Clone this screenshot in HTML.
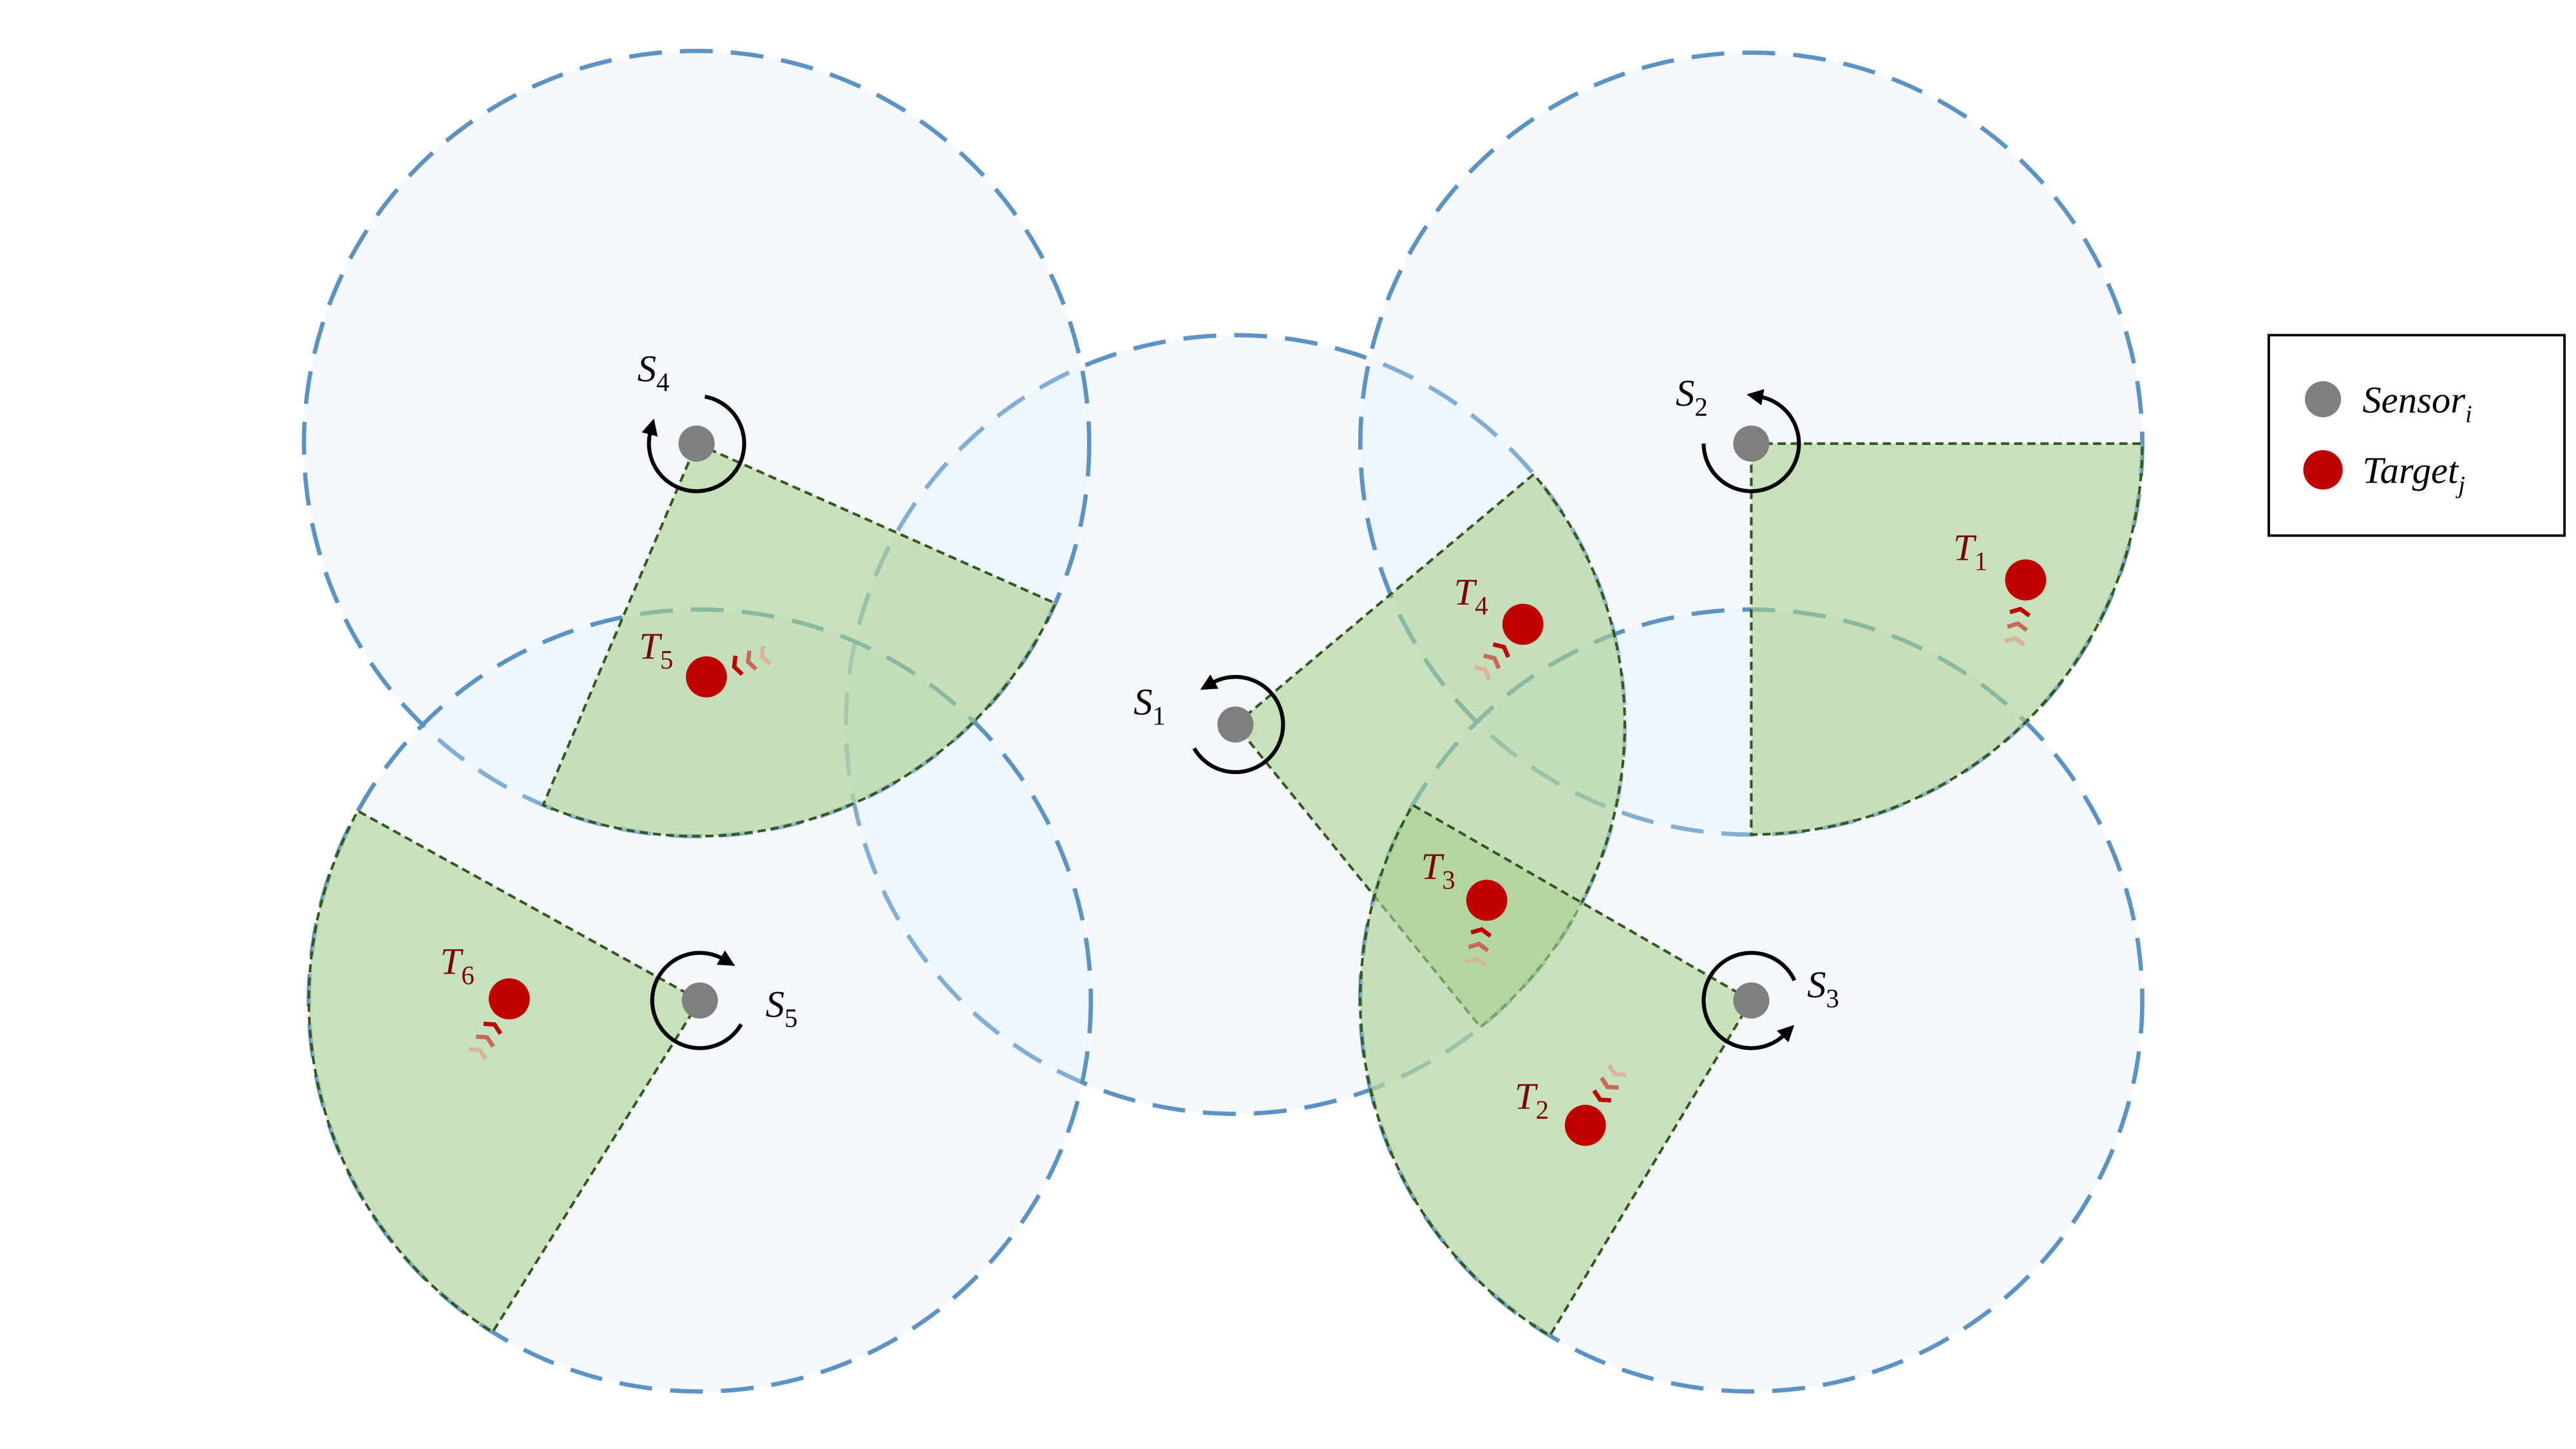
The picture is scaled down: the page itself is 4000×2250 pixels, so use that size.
<!DOCTYPE html>
<html><head><meta charset="utf-8"><style>
html,body{margin:0;padding:0;background:#fff;}
svg{display:block;}
text{font-family:"Liberation Serif",serif;font-style:italic;}
tspan{font-style:normal;}
tspan.it{font-style:italic;}
</style></head><body>
<svg id="chart" width="4000" height="2250" viewBox="0 0 1568 882" xmlns="http://www.w3.org/2000/svg">
<g id="circles"></g><g id="sectors"></g><g id="marks"></g>
<g>
<rect x="1381" y="204" width="180" height="122" fill="#fff" stroke="#000" stroke-width="1.5"/>
<circle cx="1414" cy="243" r="11" fill="#7f7f7f"/>
<text x="1438" y="251" font-size="23">Sensor<tspan class="it" font-size="15" dy="6">i</tspan></text>
<circle cx="1414" cy="286" r="12" fill="#c00000"/>
<text x="1438" y="294" font-size="23">Target<tspan class="it" font-size="15" dy="6">j</tspan></text>
</g>
</svg>
<script>
const NS="http://www.w3.org/2000/svg";
const sensorNames=["1","2","3","4","5"];
const sensorX=[752,1066,1066,424,426];
const sensorY=[441,270,609,270,609];
const sensorRange=[237,238,238,239,238];
const sectorStart=[-40,0,121,24,122];
const sectorEnd=[51,90,210,113,209];
const arrowStart=[150,180,335,-80,30];
const arrowEnd=[-120,-80,45,195,300];
const sensorLabelX=[690,1020,1100,388,466];
const sensorLabelY=[435,247,607,232,619];
const targetNames=["1","2","3","4","5","6"];
const targetX=[1233,965,905,927,430,310];
const targetY=[353,685,548,380,412,608];
const targetLabelX=[1189,922,865,885,389,268];
const targetLabelY=[341,675,535,368,401,593];
const waveDir=[100,-60,100,130,-20,120];
function mk(tag,attrs,parent){const e=document.createElementNS(NS,tag);for(const k in attrs)e.setAttribute(k,attrs[k]);parent.appendChild(e);return e;}
const rad=d=>d*Math.PI/180;
const gC=document.getElementById('circles'),gS=document.getElementById('sectors'),gM=document.getElementById('marks');
sensorX.forEach((x,i)=>{
 const c=mk('circle',{cx:x,cy:sensorY[i],r:sensorRange[i],fill:'rgba(222,235,247,0.3)',stroke:'#5b93c4','stroke-width':2.6,'stroke-dasharray':'20 11'},gC);
 
 
});
sensorX.forEach((x,i)=>{
 const y=sensorY[i],r=sensorRange[i],a0=rad(sectorStart[i]),a1=rad(sectorEnd[i]);
 const d=`M${x},${y} L${x+r*Math.cos(a0)},${y+r*Math.sin(a0)} A${r},${r} 0 0 1 ${x+r*Math.cos(a1)},${y+r*Math.sin(a1)} Z`;
 const p=mk('path',{d:d,fill:'rgba(169,209,142,0.6)',stroke:'#375623','stroke-width':1.6,'stroke-dasharray':'5 3'},gS);
 
 
});
sensorX.forEach((x,i)=>{
 const y=sensorY[i],R=29,s=arrowStart[i],e=arrowEnd[i];
 const large=Math.abs(e-s)>180?1:0,sweep=e>s?1:0;
 const ex=x+R*Math.cos(rad(e)),ey=y+R*Math.sin(rad(e));
 const g=mk('g',{},gM);
 
 
 mk('path',{d:`M${x+R*Math.cos(rad(s))},${y+R*Math.sin(rad(s))} A${R},${R} 0 ${large} ${sweep} ${ex},${ey}`,fill:'none',stroke:'#000','stroke-width':2.4},g);
 const sg=e>s?1:-1;const tx=-Math.sin(rad(e))*sg,ty=Math.cos(rad(e))*sg;const nx=-ty,ny=tx;
 mk('path',{d:`M${ex+tx*8},${ey+ty*8} L${ex-tx*2+nx*5},${ey-ty*2+ny*5} L${ex-tx*2-nx*5},${ey-ty*2-ny*5} Z`,fill:'#000'},g);
 const dot=mk('circle',{cx:x,cy:y,r:11,fill:'#7f7f7f'},gM);
 
 
 const t=mk('text',{x:sensorLabelX[i],y:sensorLabelY[i],'font-size':23,fill:'#000'},gM);
 
 
 t.innerHTML='S<tspan font-size="16" dy="6">'+sensorNames[i]+'</tspan>';
});
const waveCol=['#c00000','#c8685a','#d8b49c'];
targetX.forEach((x,i)=>{
 const y=targetY[i],a=rad(waveDir[i]),ux=Math.cos(a),uy=Math.sin(a),px=-uy,py=ux;
 const g=mk('g',{},gM);
 
 
 for(let k=0;k<3;k++){const d=18+k*9,cx=x+ux*d,cy=y+uy*d;
  mk('path',{d:`M${cx+px*6+ux*3},${cy+py*6+uy*3} L${cx},${cy} L${cx-px*6+ux*3},${cy-py*6+uy*3}`,fill:'none',stroke:waveCol[k],'stroke-width':2.6},g);}
 const c=mk('circle',{cx:x,cy:y,r:12.5,fill:'#c00000'},gM);
 
 
 const t=mk('text',{x:targetLabelX[i],y:targetLabelY[i],'font-size':23,fill:'#7b0000'},gM);
 
 
 t.innerHTML='T<tspan font-size="16" dy="6">'+targetNames[i]+'</tspan>';
});
</script>
</body></html>
